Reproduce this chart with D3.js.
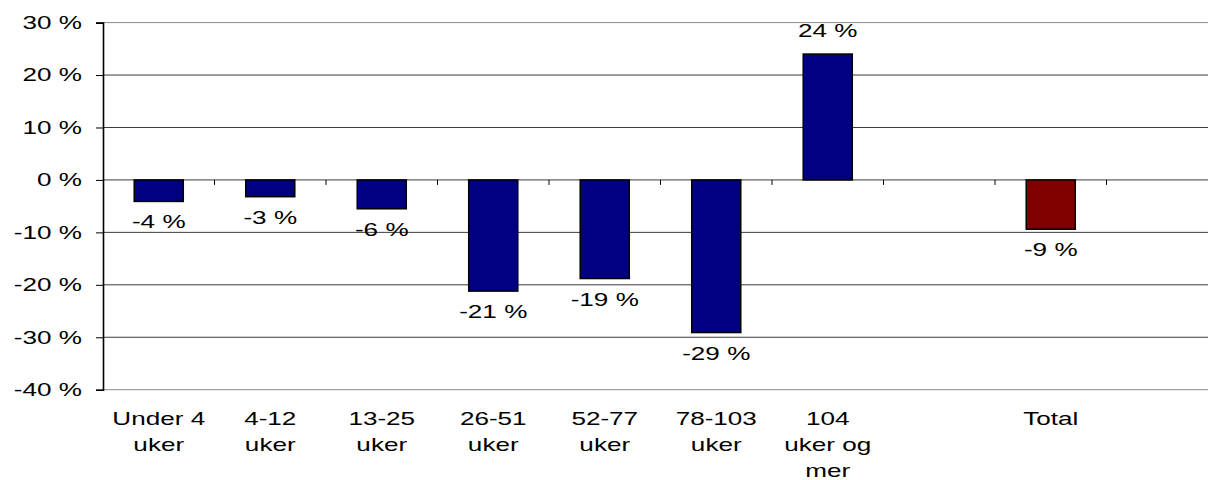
<!DOCTYPE html>
<html>
<head>
<meta charset="utf-8">
<script src="https://cdn.jsdelivr.net/npm/d3@7"></script>
<style>
  body { margin: 0; background: #fff; }
  text { font-family: "Liberation Sans", Arial, sans-serif; fill: #000; }
</style>
</head>
<body>
<svg id="chart" width="1208" height="480"></svg>
<script>
// categories (two empty slots, as in the original sheet)
const categories = ["Under 4 uker", "4-12 uker", "13-25 uker", "26-51 uker", "52-77 uker",
  "78-103 uker", "104 uker og mer", "blank1", "Total", "blank2"];
const categoryLines = [["Under 4", "uker"], ["4-12", "uker"], ["13-25", "uker"], ["26-51", "uker"],
  ["52-77", "uker"], ["78-103", "uker"], ["104", "uker og", "mer"], [], ["Total"], []];
const values = [-4.1, -3.2, -5.5, -21.2, -18.8, -29.1, 24.0, null, -9.4, null];
const valueLabels = ["-4 %", "-3 %", "-6 %", "-21 %", "-19 %", "-29 %", "24 %", "", "-9 %", ""];
const yTicks = [30, 20, 10, 0, -10, -20, -30, -40];

const svg = d3.select("#chart");
const margin = { left: 103, right: 1218, top: 22.6, bottom: 389.7 };
const stretch = 1.45; // the source text is drawn wide

const x = d3.scaleBand().domain(categories).range([margin.left, margin.right]).paddingInner(0).paddingOuter(0);
const y = d3.scaleLinear().domain([-40, 30]).range([margin.bottom, margin.top]);

// gridlines
svg.append("g")
  .selectAll("line")
  .data(yTicks)
  .join("line")
  .attr("x1", margin.left).attr("x2", margin.right)
  .attr("y1", d => y(d)).attr("y2", d => y(d))
  .attr("stroke", d => (d === 30 || d === -40) ? "#8a8a8a" : "#3a3a3a")
  .attr("stroke-width", 1);

// y axis
const yAxis = svg.append("g")
  .attr("transform", `translate(${margin.left},0)`)
  .call(d3.axisLeft(y).tickValues(yTicks).tickSize(7).tickPadding(14).tickFormat(d => d + " %"));
yAxis.select(".domain").attr("stroke", "#000").attr("stroke-width", 1.6);
yAxis.selectAll(".tick line").attr("stroke", "#000");
yAxis.selectAll("text")
  .style("font-size", "18px")
  .attr("fill", "#000")
  .attr("font-family", "Liberation Sans, Arial, sans-serif")
  .attr("x", -21 / stretch)
  .attr("transform", `scale(${stretch},1)`);

// bars
const data = categories.map((c, i) => ({ cat: c, v: values[i], label: valueLabels[i], lines: categoryLines[i] }));
const barW = x.bandwidth() * 0.44;

svg.append("g")
  .selectAll("rect")
  .data(data.filter(d => d.v !== null))
  .join("rect")
  .attr("x", d => x(d.cat) + (x.bandwidth() - barW) / 2)
  .attr("y", d => y(Math.max(0, d.v)))
  .attr("width", barW)
  .attr("height", d => Math.abs(y(d.v) - y(0)))
  .attr("fill", d => d.cat === "Total" ? "#800000" : "#000080")
  .attr("stroke", "#000")
  .attr("stroke-width", 1.5);

// category ticks on the zero line
svg.append("g")
  .selectAll("line")
  .data(categories.slice(1))
  .join("line")
  .attr("x1", d => x(d)).attr("x2", d => x(d))
  .attr("y1", y(0)).attr("y2", y(0) + 5)
  .attr("stroke", "#000");

// value labels
svg.append("g")
  .selectAll("text")
  .data(data.filter(d => d.v !== null))
  .join("text")
  .attr("transform", d => {
    const cx = x(d.cat) + x.bandwidth() / 2;
    const ty = d.v >= 0 ? y(d.v) - 17 : y(d.v) + 27;
    return `translate(${cx},${ty}) scale(${stretch},1)`;
  })
  .attr("text-anchor", "middle")
  .style("font-size", "18px")
  .text(d => d.label);

// category labels
const catG = svg.append("g")
  .selectAll("text")
  .data(data)
  .join("text")
  .attr("transform", d => `translate(${x(d.cat) + x.bandwidth() / 2},425) scale(${stretch},1)`)
  .attr("text-anchor", "middle")
  .style("font-size", "18px");
catG.selectAll("tspan")
  .data(d => d.lines)
  .join("tspan")
  .attr("x", 0)
  .attr("dy", (t, i) => i === 0 ? 0 : 26)
  .text(t => t);
</script>
</body>
</html>
